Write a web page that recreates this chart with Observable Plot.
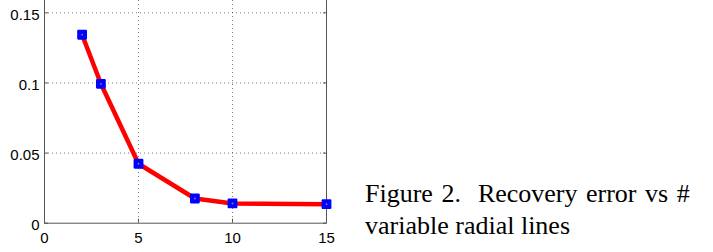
<!DOCTYPE html>
<html><head><meta charset="utf-8">
<script src="https://cdn.jsdelivr.net/npm/d3@7"></script>
<script src="https://cdn.jsdelivr.net/npm/@observablehq/plot@0.6"></script>
<style>
body{margin:0;background:#fff;}
#wrap{position:relative;width:713px;height:252px;overflow:hidden;}
#chart{position:absolute;left:0;top:0;}
#cap{position:absolute;left:365px;top:177.5px;font-family:"Liberation Serif","Times New Roman",serif;font-size:26px;line-height:32px;color:#000;white-space:nowrap;}
#cap .l1{word-spacing:2px;}
</style>
</head><body>
<div id="wrap"><div id="chart"></div><div id="cap"><span class="l1">Figure 2.&nbsp; Recovery error vs #</span><br>variable radial lines</div></div>
<script>
const numLines = [2, 3, 5, 8, 10, 15];
const recoveryError = [0.1344, 0.0994, 0.0424, 0.0176, 0.0141, 0.0136];
const xTicks = [0, 5, 10, 15];
const yTicks = [0, 0.05, 0.1, 0.15];
const yTickLabels = ["0", "0.05", "0.1", "0.15"];

const data = numLines.map((x, i) => ({x, y: recoveryError[i]}));
const frame = "#555";
const chart = Plot.plot({
  width: 340,
  height: 252,
  marginLeft: 44,
  marginRight: 14,
  marginTop: 0,
  marginBottom: 29.3,
  style: {fontFamily: "'Liberation Sans', Arial, sans-serif", fontSize: "15px", color: "#000", background: "#fff"},
  x: {domain: [0, 15]},
  y: {domain: [0, 0.1588]},
  marks: [
    Plot.gridX([5, 10], {stroke: "#444", strokeOpacity: 0.7, strokeDasharray: "1,3"}),
    Plot.gridY(yTicks.slice(1), {stroke: "#444", strokeOpacity: 0.7, strokeDasharray: "1,3"}),
    Plot.ruleX([0, 15], {stroke: frame}),
    Plot.ruleY([0], {stroke: frame}),
    Plot.axisY({anchor: "left", ticks: yTicks, tickSize: 0, tickPadding: 5, dy: 2, tickFormat: (d) => yTickLabels[yTicks.indexOf(d)], label: null, fill: "#000"}),
    Plot.axisY({anchor: "left", ticks: yTicks, tickSize: -4, text: null, label: null, stroke: frame}),
    Plot.axisY({anchor: "right", ticks: yTicks, tickSize: -4, text: null, label: null, stroke: frame}),
    Plot.axisX({anchor: "bottom", ticks: xTicks, tickSize: 0, tickPadding: 9, tickFormat: d => String(d), label: null, fill: "#000"}),
    Plot.axisX({anchor: "bottom", ticks: xTicks, tickSize: -4, text: null, label: null, stroke: frame}),
    Plot.line(data, {x: "x", y: "y", stroke: "#ff0000", strokeWidth: 4.5}),
    Plot.dot(data, {x: "x", y: "y", symbol: "square", r: 4.3, fill: "#0000ff", stroke: "#0000ff", strokeWidth: 2.2, strokeLinejoin: "round"}),
    Plot.dot(data, {x: "x", y: "y", r: 0.9, fill: "#888"})
  ]
});
document.getElementById("chart").appendChild(chart);
</script>
</body></html>
